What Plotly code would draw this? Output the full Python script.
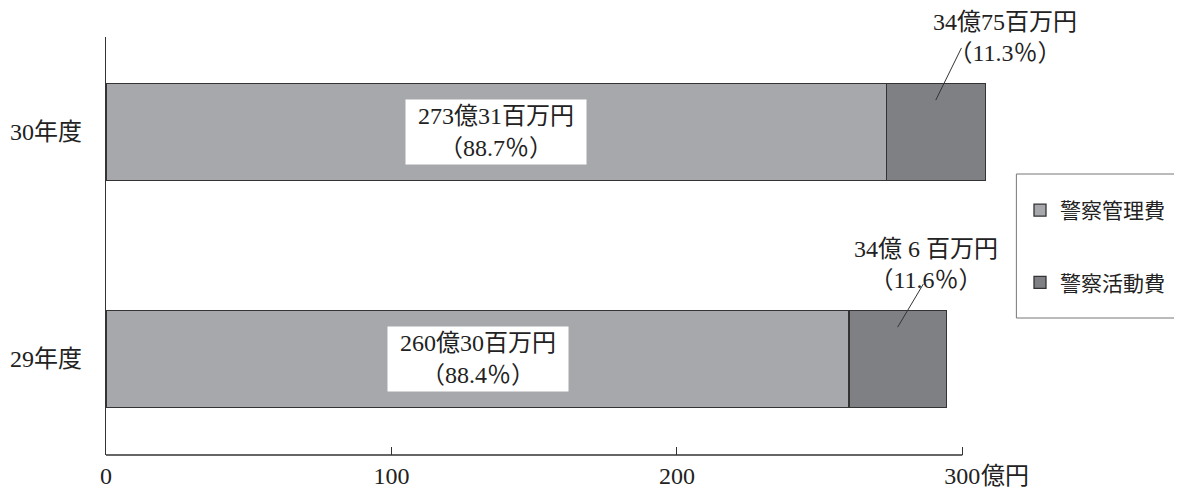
import plotly.graph_objects as go

# ---- data ----
categories = ["29年度", "30年度"]
series_names = ["警察管理費", "警察活動費"]
kanri = [260.30, 273.31]      # 億円
katsudo = [34.06, 34.75]      # 億円
inner_labels = ["260億30百万円<br>（88.4％）", "273億31百万円<br>（88.7％）"]
outer_labels = ["34億 6 百万円<br>（11.6％）", "34億75百万円<br>（11.3％）"]
tick_vals = [0, 100, 200, 300]
tick_text = ["0", "100", "200", "300"]
unit_label = "億円"

LIGHT = "#a7a8ab"
DARK = "#7f8084"
EDGE = "#333333"
FONT = "Liberation Serif, Noto Sans CJK JP, serif"
FS = 24

OFF = 8                      # default page body margin
W, H = 1182 - OFF, 490 - OFF
ML, MT = 106 - OFF, 37 - OFF
MB = H - (455 - OFF)
XMAX = 330
PX_PER_UNIT = 856 / 300
MR = W - ML - XMAX * PX_PER_UNIT
PW = W - ML - MR
PH = H - MT - MB

fig = go.Figure()
fig.add_trace(go.Bar(y=categories, x=kanri, name=series_names[0], orientation="h",
                     marker=dict(color=LIGHT, line=dict(color=EDGE, width=1.3)),
                     width=0.427, legendgroup="a"))
fig.add_trace(go.Bar(y=categories, x=katsudo, name=series_names[1], orientation="h",
                     marker=dict(color=DARK, line=dict(color=EDGE, width=1.3)),
                     width=0.427, legendgroup="b"))

# inner labels (white boxes)
for i, cat in enumerate(categories):
    fig.add_annotation(x=kanri[i] / 2, y=i, xref="x", yref="y", text=inner_labels[i],
                       showarrow=False, bgcolor="white", width=180, height=64,
                       borderpad=0, font=dict(family=FONT, size=FS, color="#222"))

# outer labels with leader lines
outer_pos = [(287.4, 94), (315.0, 94)]
for i, cat in enumerate(categories):
    xs = kanri[i] + katsudo[i] * 0.5
    ys = i + 0.14
    fig.add_shape(type="line", xref="x", yref="y", x0=xs, y0=ys, x1=xs + 9, y1=i + 0.33 + 0.04 * i,
                  line=dict(color=EDGE, width=1))
    fig.add_annotation(x=outer_pos[i][0], y=i, xref="x", yref="y", yshift=outer_pos[i][1],
                       text=outer_labels[i], showarrow=False, borderpad=0,
                       font=dict(family=FONT, size=FS, color="#222"))

# x axis line up to 300 only
fig.add_shape(type="line", xref="x", yref="paper", x0=0, x1=tick_vals[-1], y0=0, y1=0,
              line=dict(color=EDGE, width=1.3))
fig.add_annotation(x=tick_vals[-1], y=0, xref="x", yref="paper", text=unit_label,
                   showarrow=False, xanchor="left", yanchor="top", xshift=17, yshift=-6,
                   font=dict(family=FONT, size=FS, color="#222"))

# legend frame
fig.add_shape(type="rect", xref="paper", yref="paper",
              x0=(1016 - 106) / PW, x1=(1200 - 106) / PW,
              y0=(455 - 318) / PH, y1=(455 - 174) / PH,
              line=dict(color="#777", width=1), fillcolor="rgba(0,0,0,0)", layer="above")

fig.update_layout(
    width=W, height=H,
    margin=dict(l=ML, r=MR, t=MT, b=MB, autoexpand=False),
    barmode="stack",
    plot_bgcolor="white", paper_bgcolor="white",
    font=dict(family=FONT, size=FS, color="#222"),
    legend=dict(xref="container", yref="container", x=(1020 - OFF) / W, y=1 - (190 - OFF) / H,
                xanchor="left", yanchor="top",
                borderwidth=0, bgcolor="rgba(0,0,0,0)",
                font=dict(family=FONT, size=21, color="#222"),
                tracegroupgap=42, traceorder="grouped"),
    xaxis=dict(range=[0, XMAX], tickvals=tick_vals, ticktext=tick_text, ticks="inside",
               ticklen=8, tickcolor=EDGE, showline=False, showgrid=False, zeroline=False,
               ticklabelstandoff=4, automargin=False),
    yaxis=dict(range=[-0.423, 1.418], showline=True, linecolor=EDGE, linewidth=1.3,
               ticks="", showgrid=False, zeroline=False, ticklabelstandoff=18,
               automargin=False),
)

fig.write_html("out.html")
